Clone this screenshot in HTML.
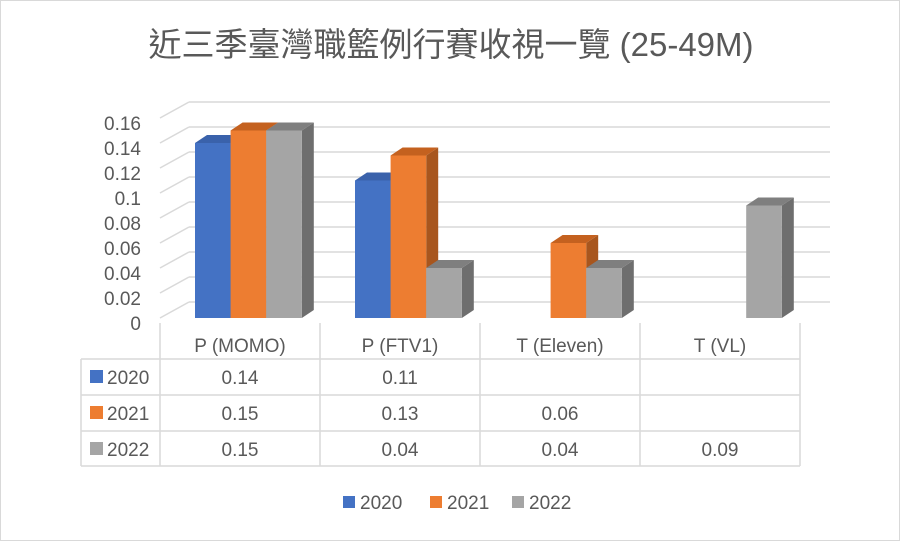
<!DOCTYPE html>
<html><head><meta charset="utf-8"><style>
body{margin:0;background:#fff}
svg text{font-family:"Liberation Sans","Noto Sans CJK TC",sans-serif;fill:#595959}
</style></head><body>
<svg width="900" height="541" viewBox="0 0 900 541">
<rect x="0.5" y="0.5" width="899" height="540" fill="#fff" stroke="#d9d9d9"/>
<text x="451" y="56" font-size="33" text-anchor="middle">近三季臺灣職籃例行賽收視一覽 (25-49M)</text>
<g id="grid"></g><g id="bars"></g><g id="table"></g><g id="legend"></g>
</svg>
<script>
const categories=["P (MOMO)","P (FTV1)","T (Eleven)","T (VL)"];
const seriesNames=["2020","2021","2022"];
const s2020=[0.14,0.11,null,null];
const s2021=[0.15,0.13,0.06,null];
const s2022=[0.15,0.04,0.04,0.09];
const yTicks=[0,0.02,0.04,0.06,0.08,0.1,0.12,0.14,0.16];
const series=[s2020,s2021,s2022];
const colors=[["#4472c4","#2f5597","#3a62ab"],["#ed7d31","#a8561e","#c4611f"],["#a5a5a5","#6e6e6e","#7f7f7f"]];
const NS="http://www.w3.org/2000/svg";
function mk(p,t,a){const e=document.createElementNS(NS,t);for(const k in a)e.setAttribute(k,a[k]);p.appendChild(e);return e;}
const base=318, ppu=1250, DX=30, DY=-16, bDX=12, bDY=-8;
const yF=v=>base-v*ppu;
const catX=i=>160+i*160;
const grid=document.getElementById('grid');
yTicks.forEach(v=>{
  const y=yF(v);
  const l=mk(grid,'line',{x1:189,y1:y+DY,x2:830,y2:y+DY,stroke:'#d9d9d9','stroke-width':1.5});
  
  
  const d=mk(grid,'line',{x1:160,y1:y,x2:189,y2:y+DY,stroke:'#d9d9d9','stroke-width':1.5});
  
  
  const t=mk(grid,'text',{x:141,y:y+12,'font-size':19,'text-anchor':'end'});
  t.textContent=String(v);
  
  
});
const bars=document.getElementById('bars');
const bw=35.6;
categories.forEach((c,i)=>{
  series.forEach((s,j)=>{
    const v=s[i]; if(v==null) return;
    const x=catX(i)+35+j*bw, yt=yF(v), col=colors[j];
    const g=mk(bars,'g',{});
    
    
    mk(g,'polygon',{points:`${x+bw},${yt} ${x+bw+bDX},${yt+bDY} ${x+bw+bDX},${base+bDY} ${x+bw},${base}`,fill:col[1]});
    mk(g,'polygon',{points:`${x},${yt} ${x+bDX},${yt+bDY} ${x+bw+bDX},${yt+bDY} ${x+bw},${yt}`,fill:col[2]});
    mk(g,'rect',{x:x,y:yt,width:bw,height:base-yt,fill:col[0]});
  });
});
const tb=document.getElementById('table');
const rowsY=[359,395,431,466];
function ln(x1,y1,x2,y2,n){const l=mk(tb,'line',{x1,y1,x2,y2,stroke:'#d9d9d9','stroke-width':1.5});}
for(let i=0;i<=4;i++) ln(catX(i),323,catX(i),466,'table-col-line');
ln(81,359,81,466,'table-col-line');
rowsY.forEach(y=>ln(81,y,800,y,'table-row-line'));
categories.forEach((c,i)=>{
  const t=mk(tb,'text',{x:catX(i)+80,y:352,'font-size':19,'text-anchor':'middle'});
  t.textContent=c;
  
  
});
series.forEach((s,j)=>{
  const y=rowsY[j]+25;
  const r=mk(tb,'rect',{x:90,y:y-14,width:13,height:13,fill:colors[j][0]});
  
  
  const t=mk(tb,'text',{x:107,y:y,'font-size':19});
  t.textContent=seriesNames[j];
  
  
  s.forEach((v,i)=>{ if(v==null) return;
    const tv=mk(tb,'text',{x:catX(i)+80,y:y,'font-size':19,'text-anchor':'middle'});
    tv.textContent=String(v);
    
    
  });
});
const lg=document.getElementById('legend');
const lx=[343,430,512];
seriesNames.forEach((n,j)=>{
  const g=mk(lg,'g',{});
  
  
  mk(g,'rect',{x:lx[j],y:496,width:12,height:12,fill:colors[j][0]});
  const t=mk(g,'text',{x:lx[j]+17,y:509,'font-size':19});
  t.textContent=n;
});
</script>
</body></html>
